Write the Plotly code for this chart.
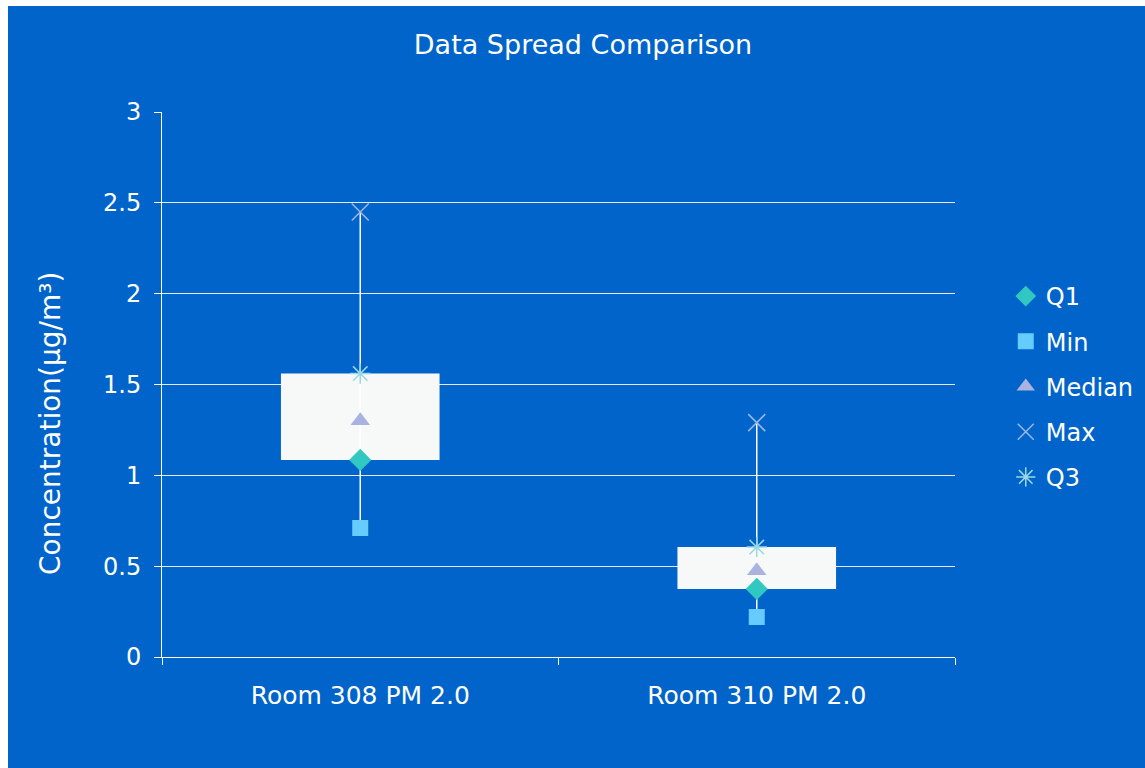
import plotly.graph_objects as go

categories = ["Room 308 PM 2.0", "Room 310 PM 2.0"]
q1 = [1.085, 0.375]
minimum = [0.71, 0.22]
median = [1.30, 0.475]
maximum = [2.45, 1.29]
q3 = [1.56, 0.605]
y_ticks = [0, 0.5, 1, 1.5, 2, 2.5, 3]
y_tick_text = ["0", "0.5", "1", "1.5", "2", "2.5", "3"]

BG = "#0064CA"
FONT = "DejaVu Sans"
W, H = 1137, 762

fig = go.Figure()

# boxes (Q1 to Q3)
fig.add_trace(go.Bar(
    x=categories, y=[b - a for a, b in zip(q1, q3)], base=q1, width=0.4,
    marker=dict(color="#F7F9F9", line=dict(width=0)),
    showlegend=False, hoverinfo="skip"))

# whiskers min -> max
wx, wy = [], []
for c, lo, hi in zip(categories, minimum, maximum):
    wx += [c, c, None]
    wy += [lo, hi, None]
fig.add_trace(go.Scatter(x=wx, y=wy, mode="lines",
                         line=dict(color="#FFFFFF", width=1.5),
                         showlegend=False, hoverinfo="skip"))

series = [
    ("Q1", q1, "diamond", "#30C8C0", 17, 0),
    ("Min", minimum, "square", "#66CCFF", 16, 0),
    ("Median", median, "triangle-up", "#AAB3E0", 17, 0),
    ("Max", maximum, "x-thin-open", "#9CB8E4", 17, 1.5),
    ("Q3", q3, "asterisk-open", "#9AD8E2", 17, 1.5),
]
for i, (name, vals, sym, col, size, lw) in enumerate(series):
    mk = dict(symbol=sym, color=col, size=size)
    if lw:
        mk["line"] = dict(color=col, width=lw)
    else:
        mk["line"] = dict(width=0)
    fig.add_trace(go.Scatter(x=categories, y=vals, mode="markers", name=name,
                             marker=mk, legendgroup=name))

fig.update_layout(
    width=W, height=H,
    paper_bgcolor=BG, plot_bgcolor=BG,
    margin=dict(l=154, r=190, t=106, b=111, autoexpand=False),
    font=dict(family=FONT, color="#FFFFFF", size=18),
    title=dict(text="Data Spread Comparison", x=(583 - 8) / W, xref="container",
               xanchor="center", y=1 - 39 / H, yanchor="middle",
               font=dict(family=FONT, size=27, color="#FFFFFF")),
    legend=dict(x=1.064, xanchor="left", y=0.5 - 2 / 545, yanchor="middle",
                font=dict(family=FONT, size=24, color="#FFFFFF"),
                tracegroupgap=11, bgcolor="rgba(0,0,0,0)", itemwidth=30),
    bargap=0.6,
    annotations=[dict(text="Concentration(μg/m³)", textangle=-90,
                      xref="paper", yref="paper",
                      x=(50 - 162) / 793, y=(651 - (423 - 6)) / 545,
                      xanchor="center", yanchor="middle", showarrow=False,
                      font=dict(family=FONT, size=28, color="#FFFFFF"))],
)
fig.update_xaxes(type="category", tickson="boundaries", ticks="outside", ticklen=7,
                 tickcolor="#FFFFFF", showline=True, linecolor="#FFFFFF", linewidth=1,
                 showgrid=False, range=[-0.5, 1.5], ticklabelstandoff=16,
                 tickfont=dict(family=FONT, size=25, color="#FFFFFF"))
fig.update_yaxes(range=[0, 3], tickvals=y_ticks, ticktext=y_tick_text,
                 ticks="outside", ticklen=7, tickcolor="#FFFFFF",
                 showline=True, linecolor="#FFFFFF", linewidth=1,
                 showgrid=True, gridcolor="#E4EAF6", gridwidth=1, zeroline=False,
                 ticklabelstandoff=8,
                 tickfont=dict(family=FONT, size=24, color="#FFFFFF"))

fig.write_html(
    "out.html",
    post_script="document.body.style.margin='0';document.body.style.padding='6px 0 0 8px';"
                "document.body.style.overflow='hidden';",
)
